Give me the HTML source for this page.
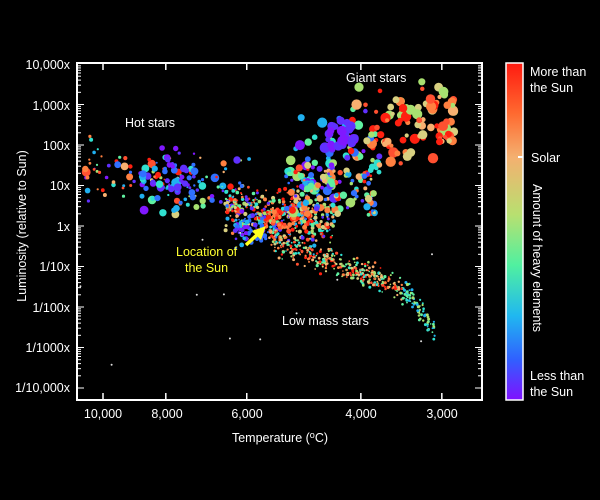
<!DOCTYPE html>
<html><head><style>
html,body{margin:0;padding:0;background:#000;width:600px;height:500px;overflow:hidden}
svg text{font-family:"Liberation Sans",Arial,sans-serif;fill:#fff}
</style></head><body>
<svg id="s" width="600" height="500" viewBox="0 0 600 500" xmlns="http://www.w3.org/2000/svg">
<defs>
<linearGradient id="cb" x1="0" y1="0" x2="0" y2="1">
<stop offset="0" stop-color="#ff1a10"/>
<stop offset="0.15" stop-color="#ff6a30"/>
<stop offset="0.28" stop-color="#f4b070"/>
<stop offset="0.45" stop-color="#b8e070"/>
<stop offset="0.6" stop-color="#50f0a0"/>
<stop offset="0.75" stop-color="#20b8f0"/>
<stop offset="0.88" stop-color="#3060ff"/>
<stop offset="1" stop-color="#8010ff"/>
</linearGradient>
</defs>
<g id="pts"></g>
<rect x="77" y="63" width="405" height="337" fill="none" stroke="#fff" stroke-width="2"/>
<g id="ticks" stroke="#fff"></g>
<g font-size="12.5" text-anchor="end">
<text x="70" y="69">10,000x</text><text x="70" y="110">1,000x</text><text x="70" y="150">100x</text>
<text x="70" y="190">10x</text><text x="70" y="231">1x</text><text x="70" y="271">1/10x</text>
<text x="70" y="312">1/100x</text><text x="70" y="352">1/1000x</text><text x="70" y="392">1/10,000x</text>
</g>
<g font-size="12.5" text-anchor="middle">
<text x="103" y="418">10,000</text><text x="167" y="418">8,000</text><text x="247" y="418">6,000</text>
<text x="361" y="418">4,000</text><text x="442" y="418">3,000</text>
<text x="280" y="442">Temperature (<tspan font-size="9" dy="-4">o</tspan><tspan dy="4">C)</tspan></text>
<text transform="translate(26,226) rotate(-90)">Luminosity (relative to Sun)</text>
</g>
<g font-size="12.5">
<text x="346" y="82">Giant stars</text>
<text x="125" y="127">Hot stars</text>
<text x="282" y="325">Low mass stars</text>
<text x="176" y="256" style="fill:#ffff30">Location of</text>
<text x="185" y="272" style="fill:#ffff30">the Sun</text>
</g>
<g id="pts2"></g>
<line x1="246" y1="245" x2="259" y2="233" stroke="#ffff20" stroke-width="3.5"/>
<polygon points="266,226 252,231 261,240" fill="#ffff20"/>
<rect x="506" y="63" width="17" height="337" fill="url(#cb)" stroke="#fff" stroke-width="1.5"/>
<line x1="518" y1="157" x2="523" y2="157" stroke="#fff" stroke-width="2"/>
<g font-size="12.5">
<text x="530" y="76">More than</text><text x="530" y="92">the Sun</text>
<text x="531" y="162">Solar</text>
<text x="530" y="380">Less than</text><text x="530" y="396">the Sun</text>
<text transform="translate(533,184) rotate(90)">Amount of heavy elements</text>
</g>
</svg>
<script>
var NS="http://www.w3.org/2000/svg";
var seed=7;function r(){seed=(seed*16807)%2147483647;return (seed-1)/2147483646;}
function g(){return (r()+r()+r()-1.5)/0.5;}
var cols=["#ff2010","#ff5030","#ff8040","#f8b070","#d8d080","#a8e070","#60f0a0","#30e0d0","#20b0f0","#3070ff","#6030ff","#8018ff"];
var P=document.getElementById("pts");
function dot(x,y,rad,c){var e=document.createElementNS(NS,"circle");e.setAttribute("cx",x.toFixed(1));e.setAttribute("cy",y.toFixed(1));e.setAttribute("r",rad.toFixed(1));e.setAttribute("fill",c);P.appendChild(e);}
function pick(a,b){return cols[Math.max(0,Math.min(11,Math.floor(a+r()*(b-a))))];}
var i;
// hot stars
for(i=0;i<130;i++){var x=85+r()*165,y=172+g()*14+(x-85)*0.1;var big=r()<0.25;dot(x,y,big?2+r()*2.5:0.8+r()*1.2,pick(0,12));}
for(i=0;i<50;i++){var x=140+r()*55,y=178+g()*14;dot(x,y,1.8+r()*2.2,pick(7,12));}
// sun region
for(i=0;i<400;i++){var x=225+r()*110,y=205+(x-225)*0.18+g()*13;dot(x,y,0.8+r()*1.3,pick(0,11));}
for(i=0;i<80;i++){var x=262+r()*50,y=218+g()*9;dot(x,y,1.2+r()*1.5,pick(0,3));}
for(i=0;i<50;i++){var x=235+r()*30,y=228+g()*9;dot(x,y,1.2+r()*1.5,pick(8,12));}
// low mass sequence
for(i=0;i<450;i++){var t=r();var x=270+t*165;var y=240+t*60+Math.pow(Math.max(0,t-0.75),2)*600+g()*6;dot(x,y,0.8+r()*0.8,t>0.8?pick(5,9):pick(0,8));}
// giants
for(i=0;i<180;i++){var x=290+r()*165,y=175-(x-290)*0.4+g()*22;if(x>400)y=125+g()*16;dot(x,y,1.8+r()*3.5,x<340?pick(5,12):(x>380?pick(0,6):pick(0,12)));}
for(i=0;i<30;i++){var x=325+r()*30,y=120+r()*30;dot(x,y,2.5+r()*3,pick(10,12));}
for(i=0;i<110;i++){var x=285+r()*90,y=165+r()*50;dot(x,y,1.2+r()*2.5,pick(0,11));}
// strays
for(i=0;i<12;i++){dot(80+r()*390,230+r()*150,1,"#ddd");}
// ticks
var T=document.getElementById("ticks");
function ln(a,b,c,d,w){var e=document.createElementNS(NS,"line");e.setAttribute("x1",a);e.setAttribute("y1",b);e.setAttribute("x2",c);e.setAttribute("y2",d);e.setAttribute("stroke-width",w);T.appendChild(e);}
for(var k=0;k<8;k++){var y0=64+k*40.5;for(var m=1;m<10;m++){var y=y0+40.5-Math.log10(m)*40.5;var L=m==1?6:3;ln(78,y,78+L,y,1);ln(481,y,481-L,y,1);}}
[10000,8000,6000,4000,3000].forEach(function(t){var x=103+(4-Math.log10(t))*648;ln(x,64,x,70,1.5);ln(x,399,x,393,1.5);});
</script>
</body></html>
